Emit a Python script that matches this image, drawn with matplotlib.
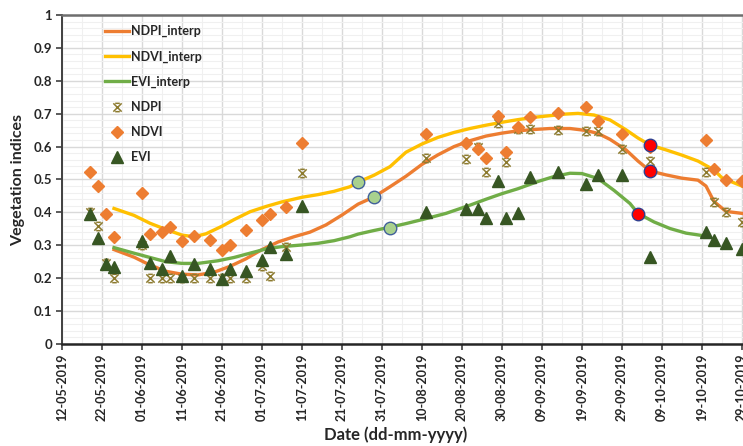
import numpy as np
import pandas as pd
import matplotlib
matplotlib.use('Agg')
import matplotlib.pyplot as plt
import matplotlib.dates as mdates
from matplotlib.path import Path
from matplotlib.ticker import MultipleLocator

plt.rcParams['font.family'] = ['Lato', 'DejaVu Sans']
plt.rcParams['font.weight'] = 'bold'

START = '2019-05-12'

# observation dates and index values
obs_dates = ['2019-05-19', '2019-05-21', '2019-05-23', '2019-05-25', '2019-06-01', '2019-06-03',
             '2019-06-06', '2019-06-08', '2019-06-11', '2019-06-14', '2019-06-18', '2019-06-21',
             '2019-06-23', '2019-06-27', '2019-07-01', '2019-07-03', '2019-07-07', '2019-07-11',
             '2019-08-11', '2019-08-21', '2019-08-24', '2019-08-26', '2019-08-29', '2019-08-31',
             '2019-09-03', '2019-09-06', '2019-09-13', '2019-09-20', '2019-09-23', '2019-09-29',
             '2019-10-06', '2019-10-20', '2019-10-22', '2019-10-25', '2019-10-29']
ndpi = [0.40, 0.358, 0.245, 0.20, 0.30, 0.20, 0.20, 0.20, 0.20, 0.20, 0.20, 0.20,
        0.20, 0.20, 0.238, 0.207, 0.295, 0.52, 0.566, 0.561, 0.60, 0.524, 0.671, 0.554,
        0.655, 0.652, 0.65, 0.648, 0.648, 0.592, 0.556, 0.522, 0.433, 0.402, 0.372]
ndvi = [0.523, 0.48, 0.396, 0.325, 0.46, 0.335, 0.34, 0.355, 0.312, 0.329, 0.316, 0.285,
        0.30, 0.346, 0.377, 0.396, 0.415, 0.61, 0.638, 0.61, 0.593, 0.564, 0.694, 0.585,
        0.659, 0.691, 0.701, 0.721, 0.679, 0.637, 0.60, 0.62, 0.531, 0.50, 0.496]
evi = [0.395, 0.323, 0.242, 0.233, 0.314, 0.247, 0.228, 0.267, 0.207, 0.243, 0.228, 0.198,
       0.228, 0.222, 0.255, 0.295, 0.273, 0.42, 0.40, 0.409, 0.409, 0.382, 0.495, 0.382,
       0.397, 0.509, 0.523, 0.486, 0.514, 0.514, 0.265, 0.341, 0.316, 0.306, 0.289]

# interpolated curves (days after START)
ndpi_i_day = [13, 18, 22, 26, 30, 34, 38, 42, 46, 50, 54, 58, 62, 66, 70, 74, 78, 82, 86, 90, 94,
              98, 102, 106, 110, 114, 118, 122, 127, 131, 134, 137, 141, 144, 147, 151, 155, 159,
              161, 163, 166, 170]
ndpi_i = [0.287, 0.264, 0.24, 0.221, 0.212, 0.21, 0.218, 0.236, 0.259, 0.287, 0.31, 0.326, 0.34,
          0.362, 0.392, 0.425, 0.447, 0.478, 0.51, 0.546, 0.575, 0.60, 0.618, 0.632, 0.641, 0.648,
          0.652, 0.655, 0.655, 0.649, 0.64, 0.622, 0.59, 0.556, 0.526, 0.514, 0.504, 0.498, 0.48,
          0.433, 0.403, 0.397]
ndvi_i_day = [13, 18, 22, 26, 30, 33, 36, 40, 43, 47, 51, 55, 60, 64, 68, 72, 74, 78, 82, 86, 90,
              94, 98, 102, 106, 110, 114, 118, 122, 126, 129, 133, 137, 141, 144, 147, 151, 155,
              159, 163, 165, 170]
ndvi_i = [0.412, 0.391, 0.367, 0.348, 0.331, 0.326, 0.335, 0.358, 0.378, 0.402, 0.418, 0.432,
          0.446, 0.454, 0.464, 0.478, 0.492, 0.513, 0.539, 0.583, 0.608, 0.628, 0.643, 0.655,
          0.665, 0.674, 0.682, 0.689, 0.694, 0.699, 0.701, 0.696, 0.681, 0.651, 0.626, 0.605,
          0.59, 0.574, 0.556, 0.529, 0.505, 0.48]
evi_i_day = [13, 18, 22, 26, 30, 34, 39, 43, 47, 51, 55, 60, 64, 68, 72, 74, 78, 82, 86, 90, 96,
             102, 106, 110, 114, 119, 123, 127, 130, 134, 138, 142, 144, 148, 152, 156, 161]
evi_i = [0.293, 0.276, 0.263, 0.25, 0.245, 0.245, 0.253, 0.263, 0.276, 0.289, 0.296, 0.301,
         0.306, 0.314, 0.326, 0.334, 0.345, 0.355, 0.366, 0.378, 0.397, 0.422, 0.44, 0.457,
         0.472, 0.494, 0.509, 0.519, 0.518, 0.503, 0.467, 0.427, 0.397, 0.371, 0.351, 0.337,
         0.328]

# highlighted points on the curves
green_pts_day = [74, 78, 82]
green_pts_val = [0.493, 0.446, 0.354]
red_pts_day = [147, 147, 144]
red_pts_val = [0.605, 0.526, 0.395]

start = pd.Timestamp(START)
to_date = lambda days: start + pd.to_timedelta(days, unit='D')
obs = pd.to_datetime(obs_dates)

W, H = 743, 446
fig = plt.figure(figsize=(W / 100, H / 100), dpi=100)
ax = fig.add_axes([62 / W, 1 - 344 / H, 1 - 62 / W, (344 - 15) / H])

# grid
ax.set_axisbelow(True)
ax.yaxis.set_minor_locator(MultipleLocator(0.02))
ax.grid(True, which='major', color='#d9d9d9', linewidth=1.0)
ax.grid(True, which='minor', color='#f0f0f0', linewidth=0.8)

c_ndpi, c_ndvi, c_evi = '#ed7d31', '#ffc000', '#70ad47'
ax.plot(to_date(ndpi_i_day), ndpi_i, color=c_ndpi, lw=2.4, label='NDPI_interp', zorder=3)
ax.plot(to_date(ndvi_i_day), ndvi_i, color=c_ndvi, lw=2.4, label='NDVI_interp', zorder=3)
ax.plot(to_date(evi_i_day), evi_i, color=c_evi, lw=2.4, label='EVI_interp', zorder=3)

star = Path([(-1, -1), (1, 1), (-1, 1), (1, -1), (-0.55, 1), (0.55, 1), (-0.55, -1), (0.55, -1)],
            [Path.MOVETO, Path.LINETO] * 4)
ax.plot(obs, ndpi, ls='none', marker=star, ms=6, mew=1.1, color='#8c7a2e', label='NDPI', zorder=4)
ax.plot(obs, ndvi, ls='none', marker='D', ms=5.8, color=c_ndpi, mec=c_ndpi, label='NDVI', zorder=4)
ax.plot(obs, evi, ls='none', marker='^', ms=8, color='#375623', mec='#375623', label='EVI', zorder=4)

ax.plot(to_date(green_pts_day), green_pts_val, ls='none', marker='o', ms=9, color='#a9d18e',
        mec='#41609a', mew=1.0, zorder=5)
ax.plot(to_date(red_pts_day), red_pts_val, ls='none', marker='o', ms=9, color='#ff0000',
        mec='#2f3f8f', mew=1.0, zorder=5)

ax.set_ylim(0, 1)
ax.set_xlim(start, to_date(170.25))
ax.yaxis.set_major_locator(MultipleLocator(0.1))
ax.yaxis.set_major_formatter(lambda v, p: f'{v:g}')
ax.set_xticks(pd.date_range(START, periods=18, freq='10D'))
ax.set_xticks(pd.date_range('2019-05-17', periods=17, freq='10D'), minor=True)
ax.xaxis.set_major_formatter(mdates.DateFormatter('%d-%m-%Y'))
ax.tick_params(axis='x', which='major', rotation=90, labelsize=9, length=4, width=1.2,
               color='#404040', labelcolor='#262626', pad=3)
ax.tick_params(axis='y', which='major', labelsize=9.5, length=4, width=1.2,
               color='#404040', labelcolor='#262626', pad=3)
ax.tick_params(which='minor', length=0)

ax.spines['right'].set_visible(False)
ax.spines['top'].set_color('#6e6e6e')
ax.spines['top'].set_linewidth(1.8)
ax.spines['left'].set_color('#404040')
ax.spines['left'].set_linewidth(1.4)
ax.spines['bottom'].set_color('#262626')
ax.spines['bottom'].set_linewidth(1.8)

fig.text(18 / W, 1 - 180 / H, 'Vegetation indices', rotation=90, ha='center', va='center',
         fontsize=11.5, color='#262626')
fig.text(396 / W, 1 - 435 / H, 'Date (dd-mm-yyyy)', ha='center', va='center',
         fontsize=12, color='#262626')

leg = ax.legend(loc='upper left', bbox_to_anchor=(100 / W, 1 - 20 / H),
                bbox_transform=fig.transFigure, frameon=False, fontsize=9,
                handlelength=1.9, handletextpad=0.2, labelspacing=1.05, borderaxespad=0)
for t in leg.get_texts():
    t.set_color('#262626')

fig.savefig('out.png', dpi=100)
